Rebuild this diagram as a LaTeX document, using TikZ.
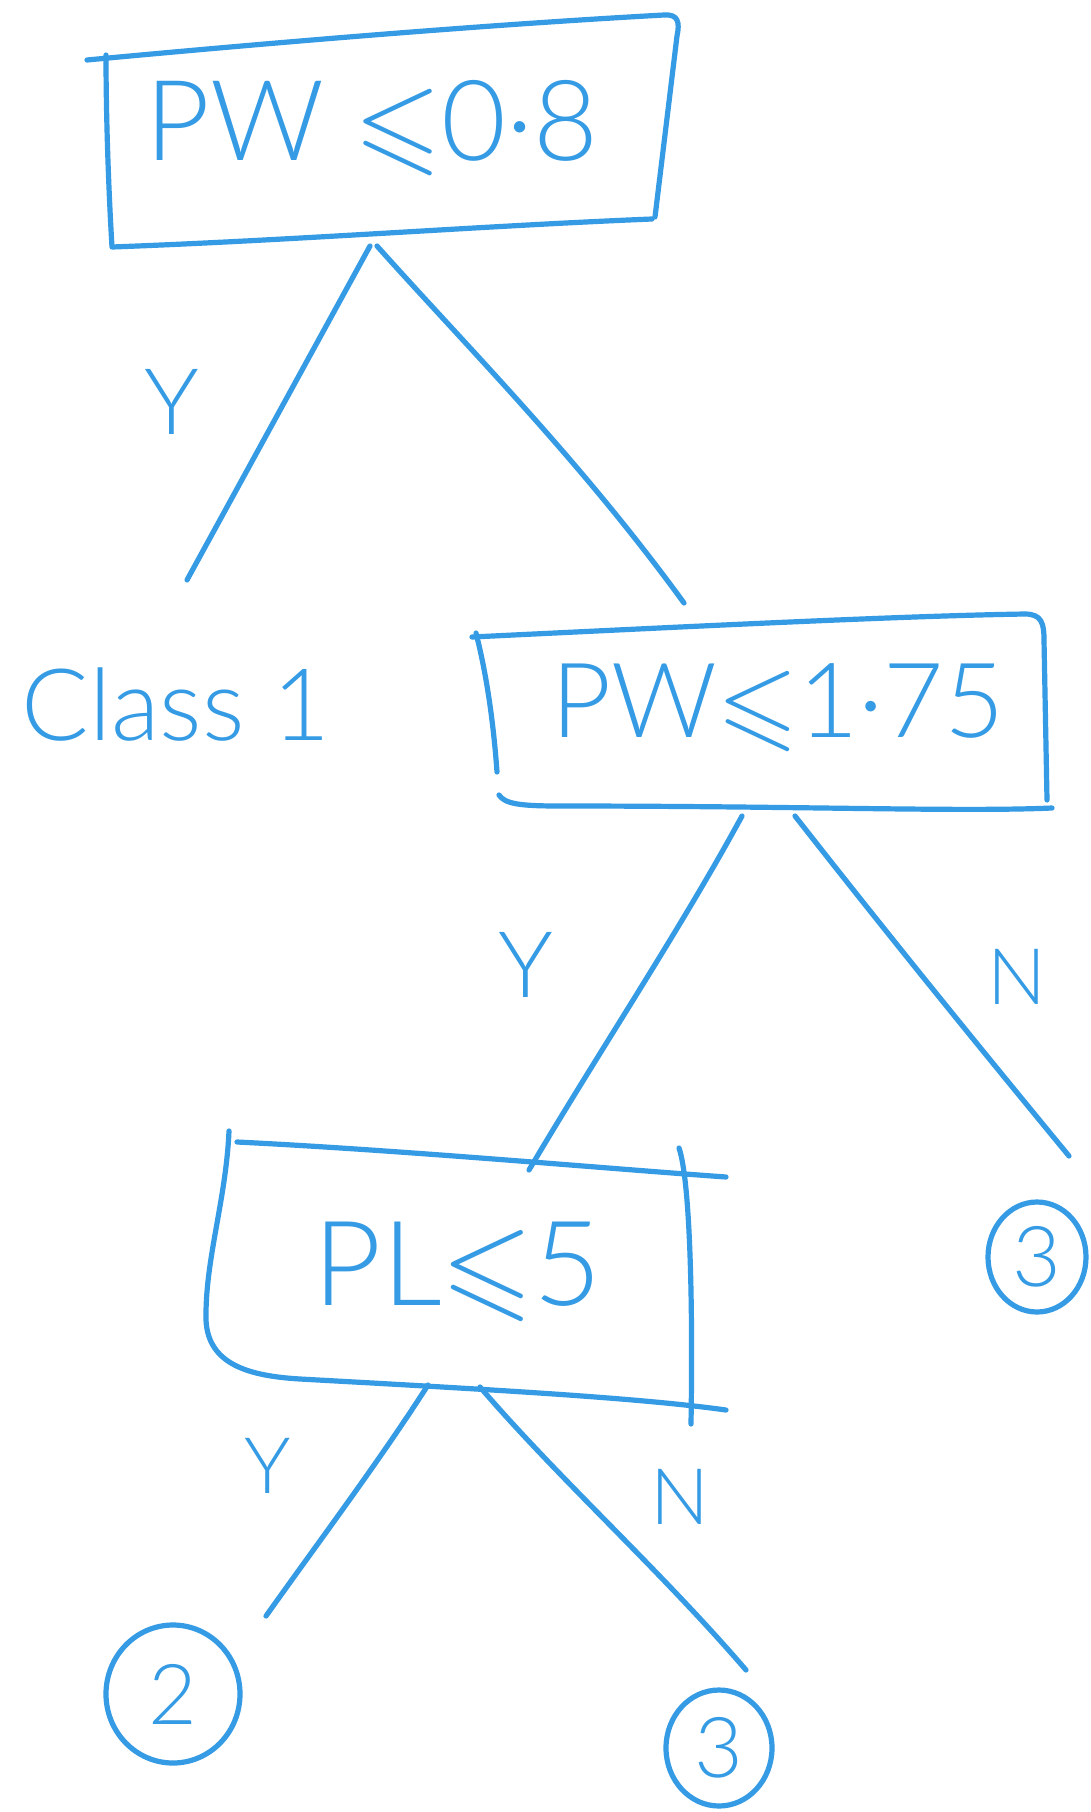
\documentclass[tikz,border=0pt]{standalone}
\usepackage{amssymb}
\usepackage{fontspec}
\setmainfont{Lato}[UprightFont=* Light]
\usetikzlibrary{shapes.geometric}
\definecolor{ink}{RGB}{52,155,228}
\tikzset{
  hand/.style={draw=ink, line width=5.2pt, line cap=round, line join=round},
  edge/.style={hand},
  boxtext/.style={text=ink, inner sep=0pt, font=\fontsize{112}{120}\selectfont},
  leaftext/.style={text=ink, inner sep=0pt, font=\fontsize{100}{110}\selectfont},
  branch/.style={text=ink, inner sep=0pt, font=\fontsize{92}{100}\selectfont},
  smallbranch/.style={text=ink, inner sep=0pt, font=\fontsize{78}{86}\selectfont},
  leaf/.style={hand, ellipse, inner sep=0pt, text=ink, font=\fontsize{84}{90}\selectfont},
}
\begin{document}
\begin{tikzpicture}[x=1pt, y=-1pt]
  \fill[white] (0,0) rectangle (1090,1812);
  \useasboundingbox (0,0) rectangle (1090,1812);

  % ---------- root test: PW <= 0.8 ----------
  \node[boxtext] (root) at (372,128) {PW $\leqslant$0·8};
  \draw[hand] (87,60) .. controls (300,40) and (500,24) .. (664,15)
              .. controls (678,14) and (680,22) .. (677,36) -- (655,217);
  \draw[hand] (652,219) .. controls (480,226) and (300,240) .. (112,247)
              .. controls (108,180) and (106,110) .. (106,55);
  \coordinate (root-y) at (370,246);
  \coordinate (root-n) at (377,246);

  % ---------- left leaf: Class 1 ----------
  \node[leaftext] (class1) at (176,705) {Class 1};
  \coordinate (class1-top) at (187,580);
  \node[branch] (y1) at (172,402) {Y};

  % ---------- second test: PW <= 1.75 ----------
  \node[boxtext, font=\fontsize{104}{112}\selectfont] (mid) at (778,708) {PW$\leqslant$1·75};
  \draw[hand] (472,637) .. controls (700,626) and (900,616) .. (1025,614)
              .. controls (1042,614) and (1044,624) .. (1044,640) -- (1047,800);
  \draw[hand] (499,795) .. controls (505,804) and (520,806) .. (560,806)
              .. controls (800,806) and (960,812) .. (1052,808);
  \draw[hand] (476,633) .. controls (488,680) and (494,730) .. (497,772);
  \coordinate (mid-top) at (684,603);
  \coordinate (mid-y) at (742,816);
  \coordinate (mid-n) at (795,816);

  % ---------- third test: PL <= 5 ----------
  \node[boxtext, font=\fontsize{118}{126}\selectfont] (low) at (458,1272) {PL$\leqslant$5};
  \draw[hand] (237,1142) .. controls (400,1150) and (600,1168) .. (726,1177);
  \draw[hand] (679,1148) .. controls (690,1180) and (693,1300) .. (691,1424);
  \draw[hand] (229,1131) .. controls (226,1200) and (205,1260) .. (206,1320)
              .. controls (208,1365) and (250,1376) .. (300,1379)
              .. controls (500,1390) and (640,1398) .. (726,1410);
  \coordinate (low-top) at (529,1170);
  \coordinate (low-y) at (428,1385);
  \coordinate (low-n) at (480,1387);
  \node[branch] (y2) at (526,965) {Y};
  \node[smallbranch] (n2) at (1017,977) {N};

  % ---------- leaves ----------
  \node[leaf, minimum width=98pt, minimum height=110pt] (leafR) at (1037,1257) {3};
  \coordinate (leafR-top) at (1069,1156);
  \node[leaf, minimum width=134pt, minimum height=138pt] (leafA) at (173,1694) {2};
  \coordinate (leafA-top) at (266,1616);
  \node[leaf, minimum width=106pt, minimum height=116pt] (leafB) at (719,1748) {3};
  \coordinate (leafB-top) at (746,1670);
  \node[smallbranch] (y3) at (268,1466) {Y};
  \node[smallbranch] (n3) at (680,1497) {N};

  % ---------- branches ----------
  \draw[edge] (root-y) -- (class1-top);
  \draw[edge] (root-n) .. controls (470,350) and (580,460) .. (mid-top);
  \draw[edge] (mid-y) .. controls (680,930) and (600,1050) .. (low-top);
  \draw[edge] (mid-n) .. controls (900,950) and (990,1060) .. (leafR-top);
  \draw[edge] (low-y) .. controls (380,1460) and (320,1540) .. (leafA-top);
  \draw[edge] (low-n) .. controls (560,1480) and (660,1570) .. (leafB-top);
\end{tikzpicture}
\end{document}
